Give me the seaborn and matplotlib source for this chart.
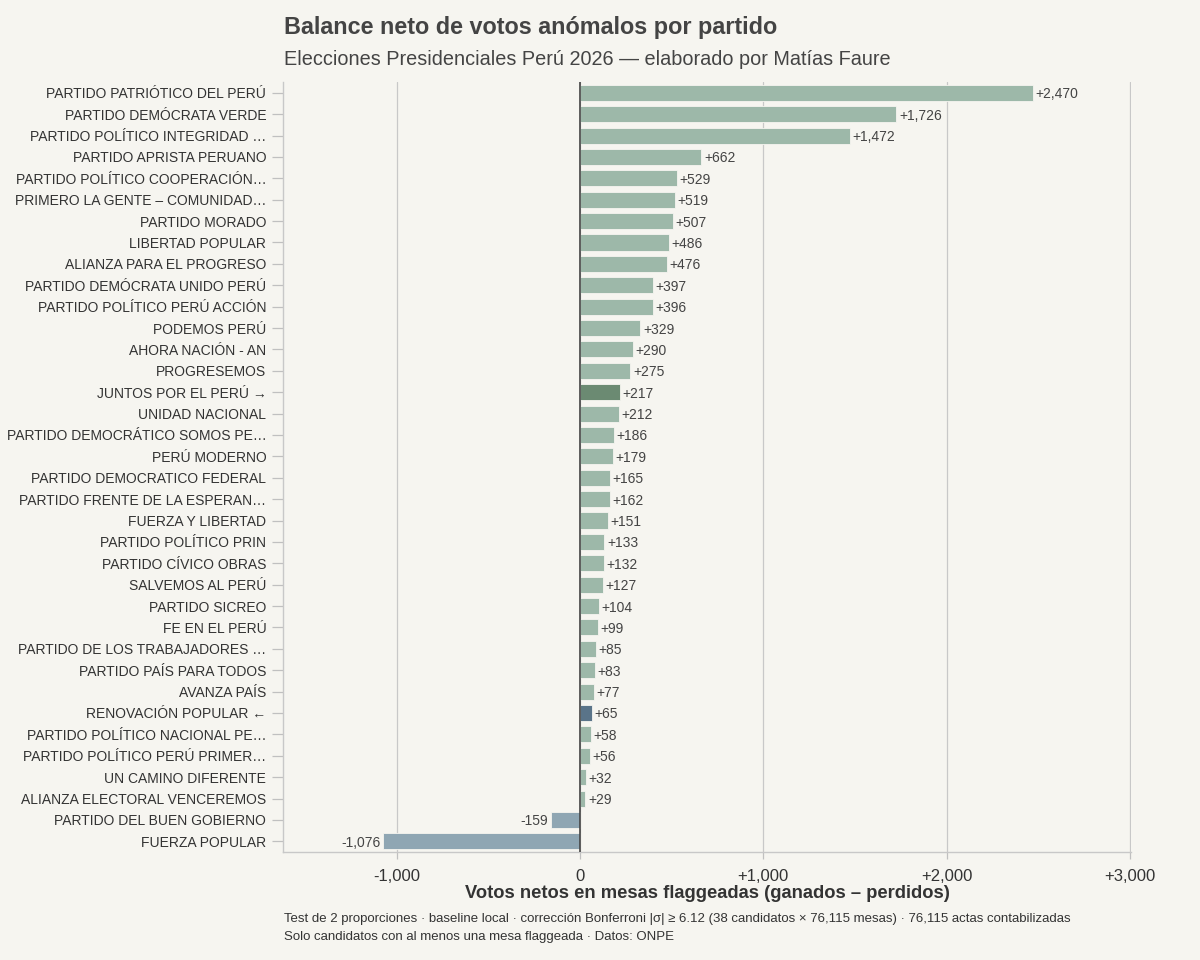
import numpy as np
import pandas as pd
import seaborn as sns
import matplotlib.pyplot as plt

# datos
partidos = ["PARTIDO PATRIÓTICO DEL PERÚ", "PARTIDO DEMÓCRATA VERDE", "PARTIDO POLÍTICO INTEGRIDAD …",
            "PARTIDO APRISTA PERUANO", "PARTIDO POLÍTICO COOPERACIÓN…", "PRIMERO LA GENTE – COMUNIDAD…",
            "PARTIDO MORADO", "LIBERTAD POPULAR", "ALIANZA PARA EL PROGRESO", "PARTIDO DEMÓCRATA UNIDO PERÚ",
            "PARTIDO POLÍTICO PERÚ ACCIÓN", "PODEMOS PERÚ", "AHORA NACIÓN - AN", "PROGRESEMOS",
            "JUNTOS POR EL PERÚ →", "UNIDAD NACIONAL", "PARTIDO DEMOCRÁTICO SOMOS PE…", "PERÚ MODERNO",
            "PARTIDO DEMOCRATICO FEDERAL", "PARTIDO FRENTE DE LA ESPERAN…", "FUERZA Y LIBERTAD",
            "PARTIDO POLÍTICO PRIN", "PARTIDO CÍVICO OBRAS", "SALVEMOS AL PERÚ", "PARTIDO SICREO",
            "FE EN EL PERÚ", "PARTIDO DE LOS TRABAJADORES …", "PARTIDO PAÍS PARA TODOS", "AVANZA PAÍS",
            "RENOVACIÓN POPULAR ←", "PARTIDO POLÍTICO NACIONAL PE…", "PARTIDO POLÍTICO PERÚ PRIMER…",
            "UN CAMINO DIFERENTE", "ALIANZA ELECTORAL VENCEREMOS", "PARTIDO DEL BUEN GOBIERNO",
            "FUERZA POPULAR"]
neto = [2470, 1726, 1472, 662, 529, 519, 507, 486, 476, 397, 396, 329, 290, 275, 217, 212, 186, 179,
        165, 162, 151, 133, 132, 127, 104, 99, 85, 83, 77, 65, 58, 56, 32, 29, -159, -1076]

df = pd.DataFrame({"partido": partidos, "neto": neto})

bg = "#f6f5f0"
sns.set_theme(style="white")
plt.rcParams['font.family'] = ['Liberation Sans', 'DejaVu Sans']

colores = []
for p, v in zip(partidos, neto):
    if p.startswith("JUNTOS"):
        colores.append("#6b8a72")
    elif p.startswith("RENOVACIÓN"):
        colores.append("#5a7489")
    elif v < 0:
        colores.append("#8fa6b3")
    else:
        colores.append("#9db8a9")

fig = plt.figure(figsize=(12, 9.6), dpi=100, facecolor=bg)
ax = fig.add_axes([0.2358, 0.1125, 0.7067, 0.802])
ax.set_facecolor(bg)

sns.barplot(data=df, x="neto", y="partido", hue="partido", palette=colores, legend=False,
            width=0.75, saturation=1, edgecolor=bg, linewidth=0.6, ax=ax, zorder=3)

ax.set_xlim(-1620, 3005)
ax.set_ylim(len(partidos) - 0.5, -0.5)
ticks = [-1000, 0, 1000, 2000, 3000]
ax.set_xticks(ticks)
ax.set_xticklabels(["-1,000", "0", "+1,000", "+2,000", "+3,000"], fontsize=12, color="#333333")
ax.tick_params(axis="y", left=True, labelsize=10, colors="#333333", length=8, width=0.9,
               color="#c0c0c0", pad=4)
ax.tick_params(axis="x", bottom=True, length=5, width=0.9, color="#c0c0c0", pad=7)
ax.grid(axis="x", color="#c8c8c8", lw=0.9, zorder=0)
ax.axvline(0, color="#444444", lw=1.2, zorder=4)

for s in ["top", "right"]:
    ax.spines[s].set_visible(False)
for s in ["left", "bottom"]:
    ax.spines[s].set_color("#c8c8c8")
    ax.spines[s].set_linewidth(1)

for i, v in enumerate(neto):
    if v >= 0:
        ax.text(v + 14, i, f"+{v:,}", va="center_baseline", ha="left", fontsize=10, color="#444444", zorder=5)
    else:
        ax.text(v - 14, i, f"{v:,}", va="center_baseline", ha="right", fontsize=10, color="#444444", zorder=5)

ax.set_ylabel("")
ax.set_xlabel("Votos netos en mesas flaggeadas (ganados – perdidos)", fontsize=13.2, fontweight="bold",
              color="#333333", labelpad=1)

fig.text(0.237, 0.971, "Balance neto de votos anómalos por partido", fontsize=16.8, fontweight="bold",
         color="#444444", va="center")
fig.text(0.237, 0.938, "Elecciones Presidenciales Perú 2026 — elaborado por Matías Faure", fontsize=14.3,
         color="#444444", va="center")
fig.text(0.237, 0.043, "Test de 2 proporciones · baseline local · corrección Bonferroni |σ| ≥ 6.12 "
         "(38 candidatos × 76,115 mesas) · 76,115 actas contabilizadas", fontsize=9.5, color="#333333",
         va="center")
fig.text(0.237, 0.024, "Solo candidatos con al menos una mesa flaggeada · Datos: ONPE", fontsize=9.5,
         color="#333333", va="center")

plt.savefig("out.png", dpi=100, facecolor=bg)
